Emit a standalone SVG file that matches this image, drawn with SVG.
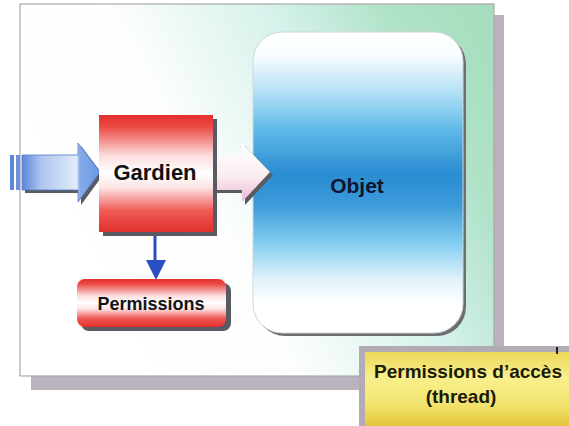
<svg xmlns="http://www.w3.org/2000/svg" width="569" height="426" viewBox="0 0 569 426">
  <defs>
    <linearGradient id="panelFill" x1="0" y1="0.4" x2="1" y2="0">
      <stop offset="0" stop-color="#ffffff"/>
      <stop offset="0.3" stop-color="#fdfefe"/>
      <stop offset="0.6" stop-color="#d4f1ea"/>
      <stop offset="0.8" stop-color="#b0e2c8"/>
      <stop offset="1" stop-color="#a6dcbc"/>
    </linearGradient>
    <linearGradient id="objetFill" x1="0" y1="0" x2="0" y2="1">
      <stop offset="0" stop-color="#ffffff"/>
      <stop offset="0.08" stop-color="#f6fcfe"/>
      <stop offset="0.2" stop-color="#b4e0f6"/>
      <stop offset="0.32" stop-color="#62bbe9"/>
      <stop offset="0.47" stop-color="#2a8cd2"/>
      <stop offset="0.57" stop-color="#3a9ad9"/>
      <stop offset="0.7" stop-color="#82cdf0"/>
      <stop offset="0.82" stop-color="#dff2fb"/>
      <stop offset="0.9" stop-color="#ffffff"/>
      <stop offset="1" stop-color="#ffffff"/>
    </linearGradient>
    <linearGradient id="redFill" x1="0" y1="0" x2="0" y2="1">
      <stop offset="0" stop-color="#e5302c"/>
      <stop offset="0.1" stop-color="#ec4944"/>
      <stop offset="0.35" stop-color="#fbdede"/>
      <stop offset="0.5" stop-color="#ffffff"/>
      <stop offset="0.62" stop-color="#fce4e4"/>
      <stop offset="0.82" stop-color="#ef5a55"/>
      <stop offset="1" stop-color="#e2302c"/>
    </linearGradient>
    <linearGradient id="yellowFill" x1="0" y1="0" x2="0" y2="1">
      <stop offset="0" stop-color="#ecd85a"/>
      <stop offset="0.35" stop-color="#f8f08c"/>
      <stop offset="0.7" stop-color="#f2e470"/>
      <stop offset="1" stop-color="#e2c63c"/>
    </linearGradient>
    <linearGradient id="blueArrowFill" x1="0" y1="0" x2="1" y2="0">
      <stop offset="0" stop-color="#5d87d8"/>
      <stop offset="0.25" stop-color="#aec6ee"/>
      <stop offset="0.7" stop-color="#e2ebf9"/>
      <stop offset="0.74" stop-color="#86aaea"/>
      <stop offset="1" stop-color="#6a98e2"/>
    </linearGradient>
    <linearGradient id="pinkArrowFill" x1="0" y1="0" x2="0" y2="1">
      <stop offset="0" stop-color="#ffffff"/>
      <stop offset="0.55" stop-color="#fbeef3"/>
      <stop offset="1" stop-color="#eab8cf"/>
    </linearGradient>
  </defs>
  <style>
    .label { font-family: "Liberation Sans", Arial, sans-serif; font-weight: bold; text-anchor: middle; }
    .shadow { fill: #5a5a62; }
    .panelShadow { fill: #bab2bd; }
  </style>

  <rect width="569" height="426" fill="#ffffff"/>

  <!-- background panel -->
  <g id="panel">
    <rect class="panelShadow" x="31" y="15" width="473" height="375"/>
    <rect x="20" y="4" width="474" height="372" fill="url(#panelFill)" stroke="#a8a8a8" stroke-width="1.2"/>
  </g>

  <!-- target object -->
  <g id="objet">
    <rect x="256" y="35" width="210" height="301" rx="29" fill="#6e6e72"/>
    <rect x="253" y="32" width="210" height="301" rx="29" fill="url(#objetFill)" stroke="#cfd6da" stroke-width="1"/>
    <text class="label" x="357" y="193" font-size="21" fill="#10142e">Objet</text>
  </g>

  <!-- connectors -->
  <g id="connectors">
    <!-- incoming request -->
    <g id="arrow-in">
      <polygon class="shadow" points="25,158 81,158 81,146 103,175 81,205 81,193 25,193"/>
      <rect x="10" y="155" width="4" height="35" fill="#5d87d8"/>
      <rect x="16" y="155" width="4" height="35" fill="#6a92dc"/>
      <polygon points="22,155 78,155 78,143 100,172 78,202 78,190 22,190" fill="url(#blueArrowFill)" stroke="#4f7bcc" stroke-width="0.8"/>
    </g>
    <!-- forwarded request -->
    <g id="arrow-out">
      <polygon class="shadow" points="216,158 245,158 245,146 273,175 245,205 245,193 216,193"/>
      <polygon points="213,155 242,155 242,143 270,172 242,202 242,190 213,190" fill="url(#pinkArrowFill)"/>
    </g>
    <!-- permission lookup -->
    <g id="arrow-down">
      <line x1="155" y1="234" x2="155" y2="262" stroke="#2a4fc0" stroke-width="3"/>
      <polygon points="146,260 166,260 156,280" fill="#2a4fc0"/>
    </g>
  </g>

  <!-- guard -->
  <g id="gardien">
    <rect class="shadow" x="103" y="119" width="114" height="117"/>
    <rect x="99" y="115" width="114" height="117" fill="url(#redFill)"/>
    <text class="label" x="155" y="180" font-size="22" fill="#111111">Gardien</text>
  </g>

  <!-- permissions store -->
  <g id="permissions">
    <rect class="shadow" x="81" y="283" width="150" height="48" rx="8"/>
    <rect x="77" y="279" width="149" height="48" rx="8" fill="url(#redFill)"/>
    <text class="label" x="151" y="310" font-size="18" fill="#141414">Permissions</text>
  </g>

  <!-- access permissions caption -->
  <g id="acces">
    <rect x="359" y="346" width="210" height="80" fill="#b2aab4"/>
    <rect x="365" y="352" width="204" height="74" fill="url(#yellowFill)"/>
    <rect x="556" y="347" width="2" height="7" fill="#222222"/>
    <text class="label" x="468" y="378" font-size="19" fill="#1c1a08">Permissions d’accès</text>
    <text class="label" x="461" y="403" font-size="19" fill="#1c1a08">(thread)</text>
  </g>
</svg>
